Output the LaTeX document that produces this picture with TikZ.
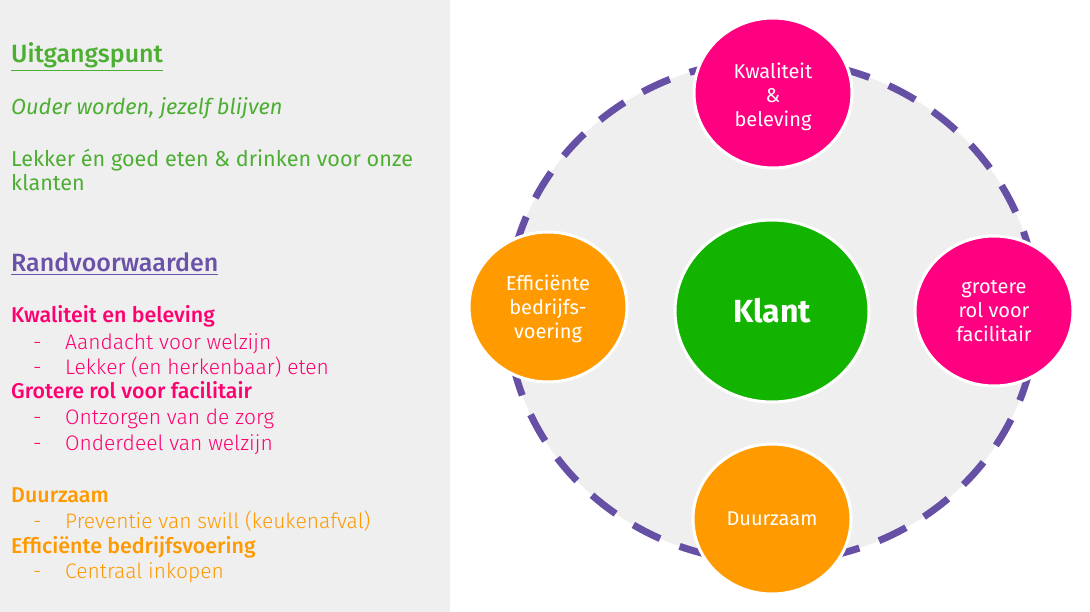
\documentclass[tikz,border=0pt]{standalone}
\usepackage{fontspec}
\setmainfont{Fira Sans}
\newfontfamily\lightfont{Fira Sans Light}
\newfontfamily\mediumfont{Fira Sans Medium}
\usetikzlibrary{shapes.geometric}

\definecolor{panelgrey}{HTML}{EFEFEF}
\definecolor{headgreen}{HTML}{4CAF32}
\definecolor{headpurple}{HTML}{6A52A8}
\definecolor{ringpurple}{HTML}{6650A6}
\definecolor{bubblepink}{HTML}{FF0080}
\definecolor{bubbleorange}{HTML}{FF9B00}
\definecolor{klantgreen}{HTML}{13B400}
\definecolor{textpink}{HTML}{FF0070}
\definecolor{textorange}{HTML}{FF9900}

\begin{document}
\begin{tikzpicture}[
    x=1pt, y=-1pt,
    lefttext/.style={anchor=base west, inner sep=0pt,
        font=\fontsize{21.6}{26}\selectfont},
    headtext/.style={lefttext,
        font=\fontsize{25}{30}\selectfont\mediumfont},
    cattext/.style={lefttext,
        font=\fontsize{21.4}{26}\selectfont\mediumfont},
    subitem/.style={lefttext,
        font=\fontsize{21}{26}\selectfont\lightfont},
    bubble/.style={ellipse, draw=white, line width=3pt,
        minimum width=158pt, minimum height=150pt, inner sep=0pt,
        text=white, align=center,
        font=\fontsize{20}{24}\selectfont}
]
\useasboundingbox (0,0) rectangle (1090,612);

% Left panel
\fill[panelgrey] (0,0) rectangle (450,612);

% Uitgangspunt
\node[headtext, text=headgreen] (uitgang) at (11,63) {\underline{Uitgangspunt}};
\node[lefttext, text=headgreen, font=\fontsize{21.8}{26}\selectfont\itshape]
    (ouder) at (11,115) {Ouder worden, jezelf blijven};
\node[lefttext, text=headgreen] (lekker) at (11,167)
    {Lekker én goed eten \& drinken voor onze};
\node[lefttext, text=headgreen] (klanten) at (11,191) {klanten};

% Randvoorwaarden
\node[headtext, text=headpurple] (rand) at (11,272) {\underline{Randvoorwaarden}};

\node[cattext, text=textpink] (kwal) at (11,323) {Kwaliteit en beleving};
\node[subitem, text=textpink] (kwala) at (33,349)
    {\makebox[32pt][l]{-}Aandacht voor welzijn};
\node[subitem, text=textpink] (kwalb) at (33,374)
    {\makebox[32pt][l]{-}Lekker (en herkenbaar) eten};
\node[cattext, text=textpink] (rol) at (11,399) {Grotere rol voor facilitair};
\node[subitem, text=textpink] (rola) at (33,424)
    {\makebox[32pt][l]{-}Ontzorgen van de zorg};
\node[subitem, text=textpink] (rolb) at (33,450)
    {\makebox[32pt][l]{-}Onderdeel van welzijn};

\node[cattext, text=textorange] (duur) at (11,502) {Duurzaam};
\node[subitem, text=textorange] (duura) at (33,528)
    {\makebox[32pt][l]{-}Preventie van swill (keukenafval)};
\node[cattext, text=textorange] (eff) at (11,553) {Efficiënte bedrijfsvoering};
\node[subitem, text=textorange] (effa) at (33,578)
    {\makebox[32pt][l]{-}Centraal inkopen};

% Dashed ring
\draw[fill=panelgrey, draw=ringpurple, line width=7pt,
    dash pattern=on 30pt off 21pt]
    (772,311) ellipse [x radius=265pt, y radius=251pt];

% Bubbles
\node[bubble, fill=klantgreen, minimum width=194pt, minimum height=182pt,
    font=\fontsize{32}{36}\selectfont\bfseries] (klant) at (772,311) {Klant};
\node[bubble, fill=bubblepink] (bkwal) at (773,93)
    {\rule{0pt}{24pt}Kwaliteit\\\&\\beleving};
\node[bubble, fill=bubbleorange] (beff) at (548,307)
    {\rule{0pt}{20pt}Efficiënte\\bedrijfs-\\voering};
\node[bubble, fill=bubblepink] (brol) at (994,311)
    {grotere\\rol voor\\facilitair};
\node[bubble, fill=bubbleorange] (bduur) at (772,519) {Duurzaam};
\end{tikzpicture}
\end{document}
